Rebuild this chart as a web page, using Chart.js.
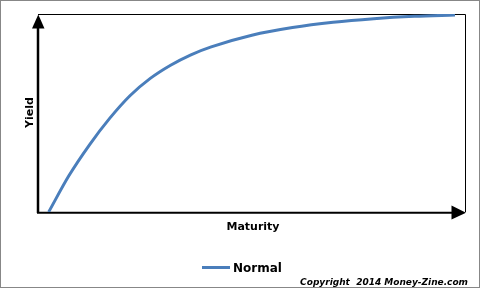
<!DOCTYPE html>
<html>
<head>
<meta charset="utf-8">
<script src="https://cdn.jsdelivr.net/npm/chart.js@4/dist/chart.umd.min.js"></script>
<style>
  body { margin: 0; background: #fff; }
  canvas { display: block; }
</style>
</head>
<body>
<canvas id="grafico" width="481" height="289"></canvas>
<script>
// valores (maturidade x rendimento, unidades arbitrárias)
const maturidade = [0, 0.5, 1, 1.5, 2, 2.5, 3, 3.5, 4, 5, 6, 7, 8, 9, 10];
const rendimento = [0, 1.85, 3.4, 4.75, 5.9, 6.78, 7.45, 7.98, 8.38, 8.97, 9.36, 9.63, 9.81, 9.93, 10.0];
const nomeSerie = "Normal";
const tituloX = "Maturity";
const tituloY = "Yield";
const copyright = "Copyright  2014 Money-Zine.com";

const pontos = maturidade.map((m, i) => ({ x: m, y: rendimento[i] }));

// moldura, eixos com setas e textos
const moldura = {
  id: 'moldura',
  beforeDatasetsDraw(chart) {
    const ctx = chart.ctx;
    const a = chart.chartArea;
    ctx.save();
    // borda externa
    ctx.strokeStyle = '#878787';
    ctx.lineWidth = 1;
    ctx.strokeRect(0.5, 0.5, 479, 287);
    // topo e lado direito
    ctx.strokeStyle = '#000';
    ctx.beginPath();
    ctx.moveTo(a.left, a.top + 0.5);
    ctx.lineTo(a.right + 0.5, a.top + 0.5);
    ctx.lineTo(a.right + 0.5, a.bottom);
    ctx.stroke();
    // eixo y
    ctx.lineWidth = 2.5;
    ctx.beginPath();
    ctx.moveTo(a.left, a.bottom + 1);
    ctx.lineTo(a.left, a.top + 10);
    ctx.stroke();
    // eixo x
    ctx.lineWidth = 2;
    ctx.beginPath();
    ctx.moveTo(a.left - 1, a.bottom + 0.7);
    ctx.lineTo(a.right - 8, a.bottom + 0.7);
    ctx.stroke();
    // setas
    ctx.fillStyle = '#000';
    ctx.beginPath();
    ctx.moveTo(a.left + 0.3, a.top + 0.5);
    ctx.lineTo(a.left - 6, a.top + 14.5);
    ctx.lineTo(a.left + 6.5, a.top + 14.5);
    ctx.closePath();
    ctx.fill();
    ctx.beginPath();
    ctx.moveTo(a.right + 1, a.bottom + 0.7);
    ctx.lineTo(a.right - 13.5, a.bottom - 6.5);
    ctx.lineTo(a.right - 13.5, a.bottom + 7.5);
    ctx.closePath();
    ctx.fill();
    ctx.restore();
  },
  afterDraw(chart) {
    const ctx = chart.ctx;
    ctx.save();
    ctx.fillStyle = '#000';
    ctx.textBaseline = 'alphabetic';
    ctx.font = 'bold 11px "DejaVu Sans"';
    ctx.textAlign = 'center';
    ctx.fillText(tituloX, 253, 230);
    ctx.save();
    ctx.translate(33, 112.5);
    ctx.rotate(-Math.PI / 2);
    ctx.fillText(tituloY, 0, 0);
    ctx.restore();
    // legenda
    ctx.strokeStyle = '#4A7EBB';
    ctx.lineWidth = 3;
    ctx.beginPath();
    ctx.moveTo(202, 267.5);
    ctx.lineTo(230, 267.5);
    ctx.stroke();
    ctx.textAlign = 'left';
    ctx.font = 'bold 12px "DejaVu Sans"';
    ctx.fillText(nomeSerie, 233, 271.5);
    ctx.font = 'italic bold 9px "DejaVu Sans"';
    ctx.textAlign = 'right';
    ctx.fillText(copyright, 468, 285);
    ctx.restore();
  }
};

const ctx = document.getElementById('grafico').getContext('2d');
const grafico = new Chart(ctx, {
  type: 'line',
  data: {
    datasets: [{
      label: nomeSerie,
      data: pontos,
      borderColor: '#4A7EBB',
      backgroundColor: '#4A7EBB',
      borderWidth: 3,
      pointRadius: 0,
      cubicInterpolationMode: 'monotone',
      fill: false
    }]
  },
  options: {
    responsive: false,
    animation: false,
    layout: { padding: { left: 38, right: 16, top: 14, bottom: 77 } },
    plugins: {
      legend: { display: false },
      tooltip: { enabled: false }
    },
    scales: {
      x: { type: 'linear', display: false, min: -0.263, max: 10.246 },
      y: { display: false, min: 0, max: 10.05 }
    }
  },
  plugins: [moldura]
});
</script>
</body>
</html>
